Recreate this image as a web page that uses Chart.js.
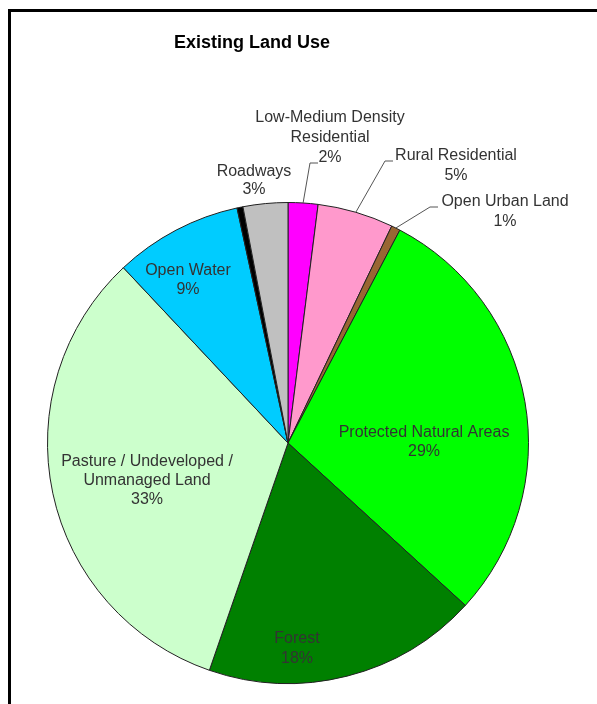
<!DOCTYPE html>
<html>
<head>
<meta charset="utf-8">
<script src="https://cdn.jsdelivr.net/npm/chart.js@4"></script>
<style>
  html, body { margin: 0; padding: 0; background: #fff; }
  canvas { display: block; }
</style>
</head>
<body>
<canvas id="landUseChart" width="597" height="704"></canvas>
<script>
// Slice data (percent of total land, clockwise from 12 o'clock)
const categories = [
    'Low-Medium Density Residential',
    'Rural Residential',
    'Open Urban Land',
    'Protected Natural Areas',
    'Forest',
    'Pasture / Undeveloped / Unmanaged Land',
    'Open Water',
    'Other',
    'Roadways'
];
const shares = [2.0, 5.1, 0.6, 29.1, 18.5, 32.7, 8.6, 0.4, 3.0];
const sliceColors = ['#ff00ff', '#ff99cc', '#996633', '#00ff00', '#008000', '#ccffcc', '#00ccff', '#000000', '#c0c0c0'];

// Label text shown on the chart (null = no label)
const labelLines = [
    ['Low-Medium Density', 'Residential', '2%'],
    ['Rural Residential', '5%'],
    ['Open Urban Land', '1%'],
    ['Protected Natural Areas', '29%'],
    ['Forest', '18%'],
    ['Pasture / Undeveloped /', 'Unmanaged Land', '33%'],
    ['Open Water', '9%'],
    null,
    ['Roadways', '3%']
];

// Label placement relative to pie center: text center of first line,
// and optional leader elbow (start of the short horizontal tick next to text)
const labelPlacement = [
    { dx: 42, dy: -325, lh: 20, leader: [30, -280, 22] },
    { dx: 168, dy: -287, lh: 20, leader: [105, -282, 97] },
    { dx: 217, dy: -241, lh: 20, leader: [150, -236, 142] },
    { dx: 136, dy: -10, lh: 19 },
    { dx: 9, dy: 196, lh: 20 },
    { dx: -141, dy: 19, lh: 19 },
    { dx: -100, dy: -172, lh: 19 },
    null,
    { dx: -34, dy: -271, lh: 18 }
];

const FONT = "'Liberation Sans', Arial, sans-serif";

// Frame and title
const framePlugin = {
    id: 'frame',
    beforeDraw(chart) {
        const ctx = chart.ctx;
        ctx.save();
        ctx.fillStyle = '#fff';
        ctx.fillRect(0, 0, chart.width, chart.height);
        ctx.strokeStyle = '#000';
        ctx.lineWidth = 3;
        ctx.strokeRect(9.5, 10.5, 700, 800);
        ctx.fillStyle = '#000';
        ctx.font = 'bold 18px ' + FONT;
        ctx.textAlign = 'center';
        ctx.textBaseline = 'middle';
        ctx.fillText('Existing Land Use', 252, 43);
        ctx.restore();
    }
};

// Slice labels and leader lines
const sliceLabelPlugin = {
    id: 'sliceLabels',
    afterDatasetsDraw(chart) {
        const ctx = chart.ctx;
        const meta = chart.getDatasetMeta(0);
        ctx.save();
        ctx.font = '16px ' + FONT;
        ctx.textAlign = 'center';
        ctx.textBaseline = 'middle';
        meta.data.forEach((arc, i) => {
            const lines = labelLines[i];
            const place = labelPlacement[i];
            if (!lines || !place) return;
            const cx = arc.x, cy = arc.y;
            if (place.leader) {
                const mid = (arc.startAngle + arc.endAngle) / 2;
                const ax = cx + Math.cos(mid) * arc.outerRadius;
                const ay = cy + Math.sin(mid) * arc.outerRadius;
                const [x1, y1, x2] = place.leader;
                ctx.strokeStyle = '#555';
                ctx.lineWidth = 1;
                ctx.beginPath();
                ctx.moveTo(cx + x1, cy + y1);
                ctx.lineTo(cx + x2, cy + y1);
                ctx.lineTo(ax, ay);
                ctx.stroke();
            }
            ctx.fillStyle = '#333';
            lines.forEach((t, k) => {
                ctx.fillText(t, cx + place.dx, cy + place.dy + k * place.lh);
            });
        });
        ctx.restore();
    }
};

const ctx = document.getElementById('landUseChart').getContext('2d');

const chart = new Chart(ctx, {
    type: 'pie',
    data: {
        labels: categories,
        datasets: [{
            data: shares,
            backgroundColor: sliceColors,
            borderColor: '#222',
            borderWidth: 1
        }]
    },
    options: {
        responsive: false,
        devicePixelRatio: 1,
        animation: false,
        layout: {
            padding: { left: 47, right: 68, top: 202, bottom: 20 }
        },
        plugins: {
            legend: { display: false },
            tooltip: { enabled: false },
            title: { display: false }
        }
    },
    plugins: [framePlugin, sliceLabelPlugin]
});
</script>
</body>
</html>
